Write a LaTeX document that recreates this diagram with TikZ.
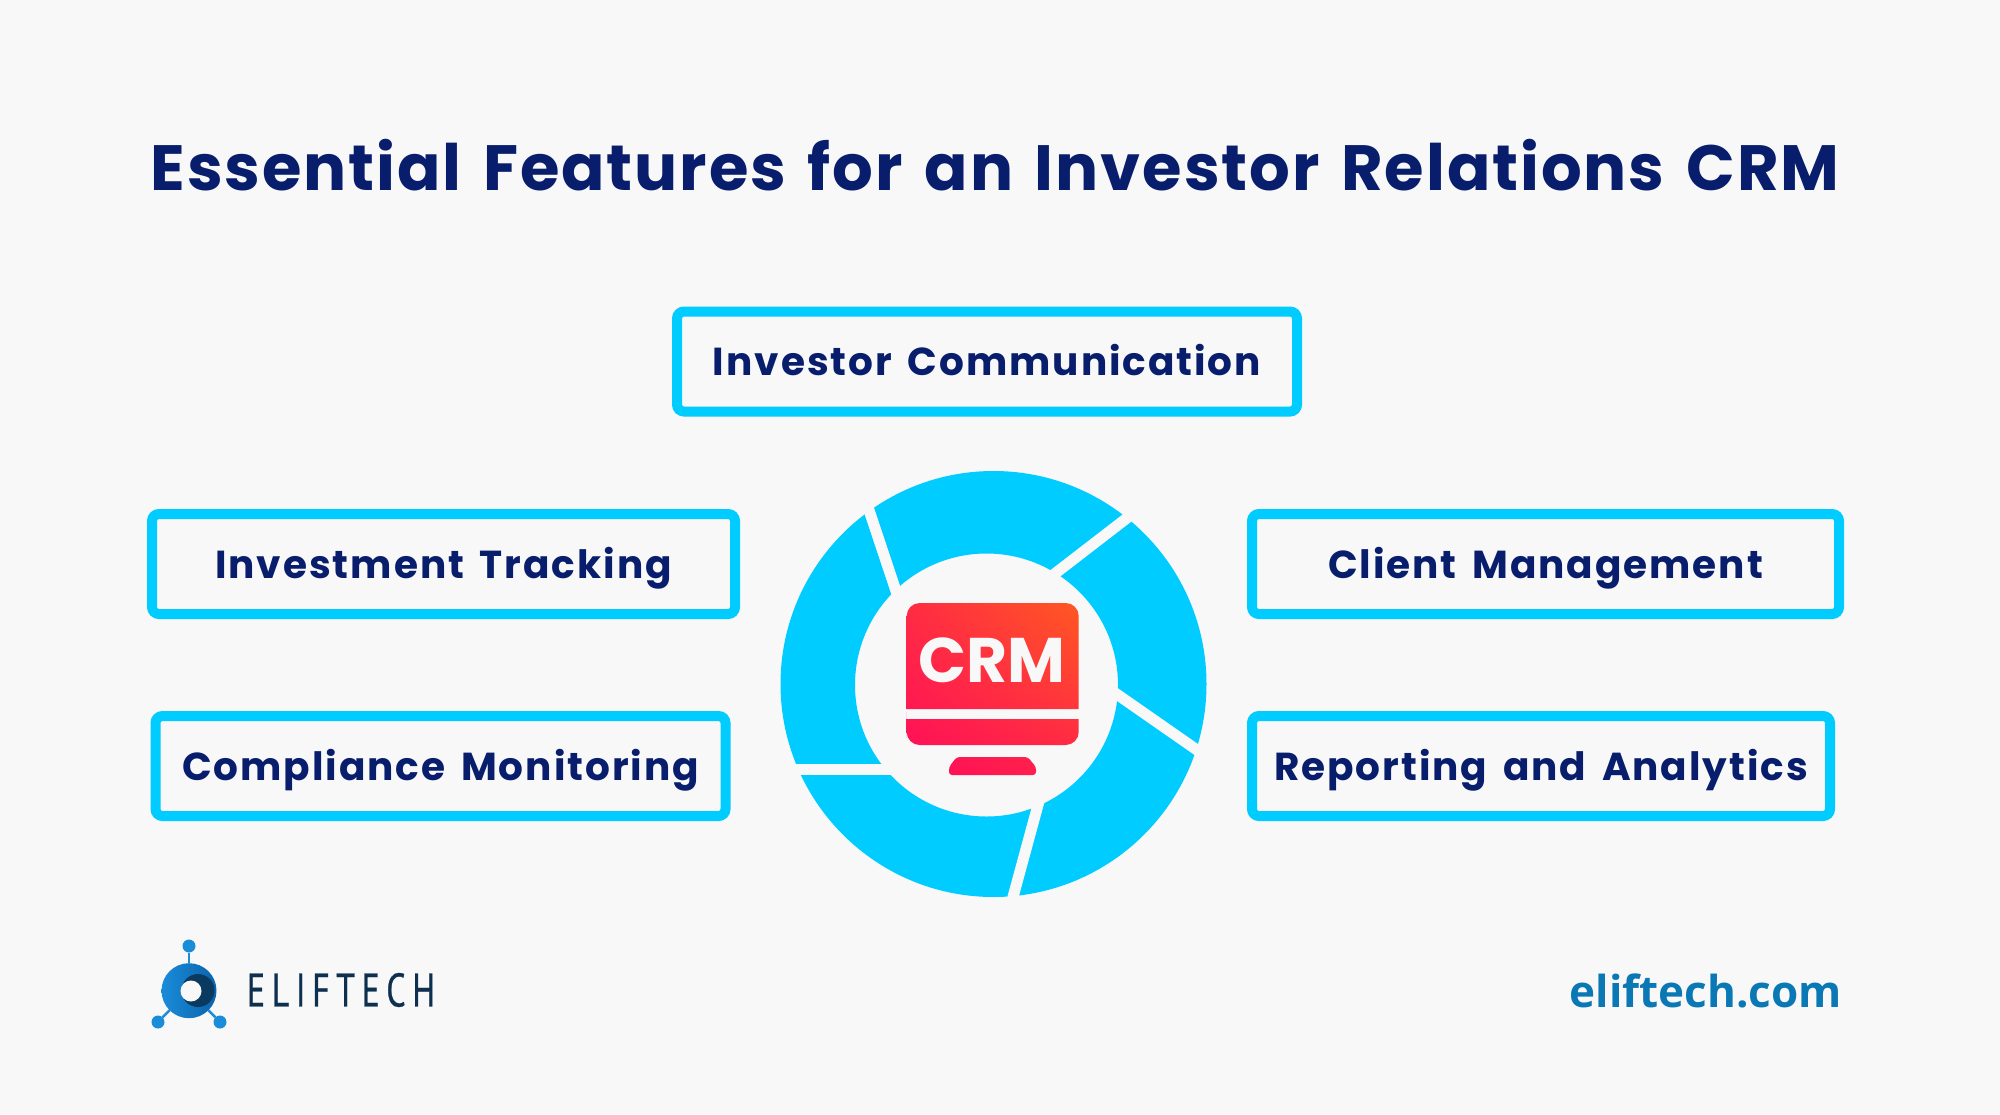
\documentclass[tikz,border=0pt]{standalone}
\usepackage{fontspec}
\setmainfont{Poppins}
\newfontfamily\titlefont[LetterSpace=3,WordSpace=1.4]{Poppins}
\newfontfamily\featfont[LetterSpace=5,WordSpace=1.55]{Poppins}
\newfontfamily\logofont[FakeStretch=0.72,LetterSpace=14,FakeBold=0.6]{PT Sans}
\newfontfamily\sitefont{Open Sans}
\usetikzlibrary{positioning, shadings}

\definecolor{pagebg}{HTML}{F8F8F9}
\definecolor{ringblue}{HTML}{00CCFF}
\definecolor{navy}{HTML}{081E6C}
\definecolor{logoblue}{HTML}{1A8CD8}
\definecolor{logodeep}{HTML}{0A62AC}
\definecolor{logodark}{HTML}{0A3A60}
\definecolor{logotext}{HTML}{0F2F4F}
\definecolor{sitecolor}{HTML}{0A78B4}
\definecolor{crmorange}{HTML}{FF5A20}
\definecolor{crmpink}{HTML}{FF0A5C}

\begin{document}
\begin{tikzpicture}[
    x=1pt, y=-1pt,
    featbox/.style={rectangle, draw=ringblue, line width=10pt, rounded corners=7pt, fill=pagebg,
        inner sep=0pt, outer sep=0pt, minimum height=100pt, text=navy, text height=28pt, text depth=0pt,
        font=\featfont\fontsize{39}{45}\selectfont\bfseries},
    ringgap/.style={draw=pagebg, line width=11pt, shorten >=-12pt, shorten <=-12pt},
    logoball/.style={circle, fill=logoblue, inner sep=0pt, outer sep=0pt, minimum size=13pt},
    logostem/.style={draw=logoblue, line width=2.5pt}
]

% Page
\fill[pagebg] (0,0) rectangle (2000,1114);
\useasboundingbox (0,0) rectangle (2000,1114);

% Title
\node[text=navy, font=\titlefont\fontsize{64}{70}\selectfont\bfseries] (title) at (995,165) {Essential Features for an Investor Relations CRM};

% Ring
\fill[ringblue, even odd rule] (993.5,684) circle (213) (986.5,685) circle (131.5);

% Gaps in the ring
\foreach \xa/\ya/\xb/\yb in {895/588/870/513, 1057/572/1127/518, 1118/695/1197/750, 1038/805/1013/897, 885/769/798/769}
    \draw[ringgap] (\xa,\ya) -- (\xb,\yb);

% Feature boxes
\node[featbox, minimum width=620pt] (comm) at (987,361.5) {Investor Communication};
\node[featbox, minimum width=583pt] (invest) at (443.5,564) {Investment Tracking};
\node[featbox, minimum width=570pt, below=102pt of invest, xshift=-3pt] (comply) {Compliance Monitoring};
\node[featbox, minimum width=587pt] (client) at (1545.5,564) {Client Management};
\node[featbox, minimum width=578pt, below=102pt of client.south west, anchor=north west] (report) {Reporting and Analytics};

% Monitor
\begin{scope}
    \clip[rounded corners=13pt] (906.7,709) [sharp corners] -- (906.7,640) [rounded corners=13pt] -- (906.7,603) -- (1078.7,603) -- (1078.7,640) [sharp corners] -- (1078.7,709) -- cycle
          (906.7,719) -- (1078.7,719) -- (1078.7,725) [rounded corners=13pt] -- (1078.7,745) -- (906.7,745) -- (906.7,725) [sharp corners] -- cycle
          [rounded corners=3pt] (956.7,757) -- (1027.7,757) -- (1036,767) -- (1036,775) -- (949,775) -- (949,767) -- cycle;
    \shade[lower left=crmpink, upper right=crmorange, lower right=crmorange!30!crmpink, upper left=crmorange!40!crmpink] (900,600) rectangle (1085,780);
\end{scope}
\node[text=pagebg, font=\fontsize{63}{63}\selectfont\bfseries] (crm) at (992,660) {CRM};

% Logo
\node[logoball] (balltop) at (189,946) {};
\node[logoball] (ballleft) at (158,1022) {};
\node[logoball] (ballright) at (220,1022) {};
\node[circle, left color=logoblue, right color=logodeep, inner sep=0pt, outer sep=0pt, minimum size=55pt] (logocore) at (189,990.7) {};
\draw[logostem] (balltop) -- (logocore);
\draw[logostem] (ballleft) -- (logocore);
\draw[logostem] (ballright) -- (logocore);
\node[circle, fill=logodark, inner sep=0pt, minimum size=33pt] (logoshade) at (198,990.5) {};
\node[circle, fill=pagebg, inner sep=0pt, minimum size=21pt] (logohole) at (191,991) {};
\node[text=logotext, font=\logofont\fontsize{47}{47}\selectfont] (logoname) at (341,990) {ELIFTECH};

% Website
\node[text=sitecolor, font=\sitefont\fontsize{44}{50}\selectfont\bfseries] (site) at (1706,991) {eliftech.com};

\end{tikzpicture}
\end{document}
